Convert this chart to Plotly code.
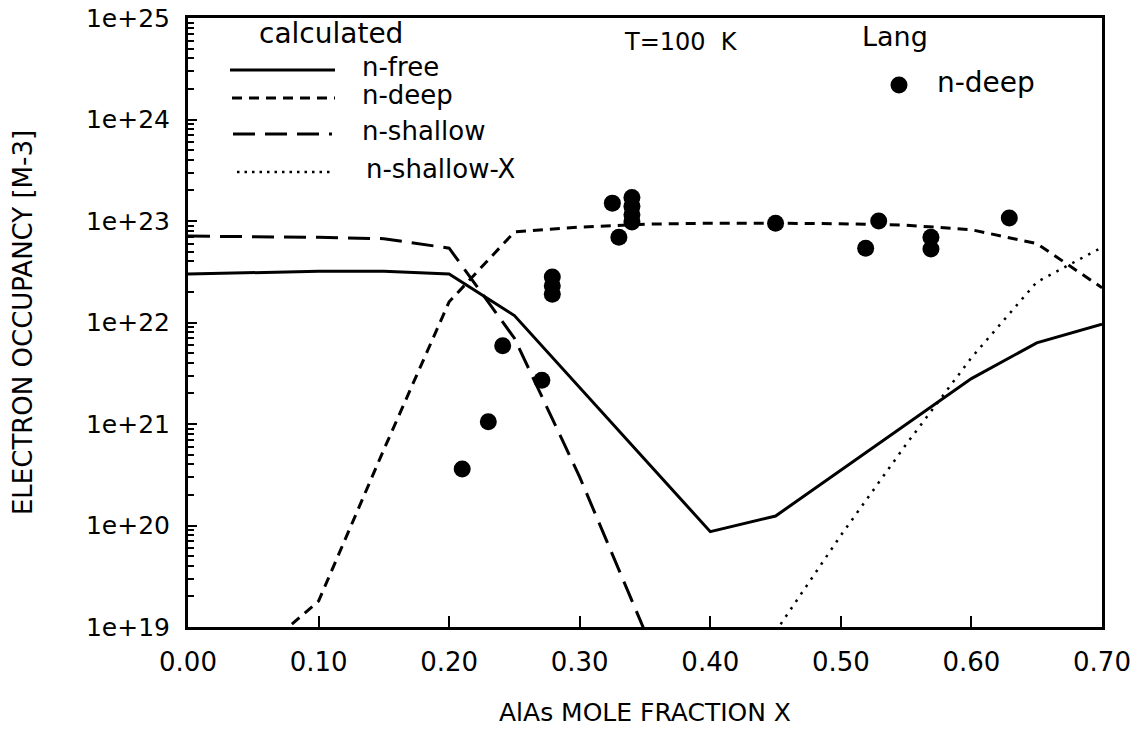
import plotly.graph_objects as go

# ---- data ----
x_free = [0.00, 0.10, 0.15, 0.20, 0.25, 0.40, 0.45, 0.60, 0.65, 0.70]
n_free = [3.0e22, 3.2e22, 3.2e22, 3.0e22, 1.17e22, 8.7e19, 1.24e20, 2.8e21, 6.3e21, 9.6e21]

x_deep = [0.05, 0.10, 0.15, 0.20, 0.25, 0.30, 0.35, 0.40, 0.45, 0.50, 0.55, 0.60, 0.65, 0.70]
n_deep = [5.0e18, 1.8e19, 5.6e20, 1.6e22, 7.8e22, 8.7e22, 9.3e22, 9.5e22, 9.5e22, 9.4e22, 9.1e22, 8.2e22, 6.0e22, 2.2e22]

x_shallow = [0.00, 0.05, 0.10, 0.15, 0.20, 0.25, 0.30, 0.35]
n_shallow = [7.1e22, 7.05e22, 6.9e22, 6.7e22, 5.4e22, 7.0e21, 3.0e20, 9.0e18]

x_shallow_x = [0.45, 0.50, 0.55, 0.60, 0.65, 0.70]
n_shallow_x = [9.0e18, 8.0e19, 6.3e20, 4.5e21, 2.5e22, 5.5e22]

x_lang = [0.210, 0.230, 0.241, 0.271, 0.279, 0.279, 0.279, 0.325, 0.330,
          0.340, 0.340, 0.340, 0.340, 0.450, 0.519, 0.529, 0.569, 0.569, 0.629]
n_lang = [3.6e20, 1.05e21, 5.9e21, 2.7e21, 2.8e22, 2.3e22, 1.9e22, 1.5e23, 6.9e22,
          1.7e23, 1.4e23, 1.15e23, 9.8e22, 9.5e22, 5.4e22, 1.0e23, 6.9e22, 5.3e22, 1.07e23]

x_ticks = [0.0, 0.1, 0.2, 0.3, 0.4, 0.5, 0.6, 0.7]
x_tick_text = ["0.00", "0.10", "0.20", "0.30", "0.40", "0.50", "0.60", "0.70"]
y_ticks = [1e19, 1e20, 1e21, 1e22, 1e23, 1e24, 1e25]
y_tick_text = ["1e+19", "1e+20", "1e+21", "1e+22", "1e+23", "1e+24", "1e+25"]

legend_names = ["n-free", "n-deep", "n-shallow", "n-shallow-X"]

FONT = "DejaVu Sans"
BLACK = "black"

fig = go.Figure()
fig.add_trace(go.Scatter(x=x_free, y=n_free, mode="lines", name="n-free",
                         line=dict(color=BLACK, width=3)))
fig.add_trace(go.Scatter(x=x_deep, y=n_deep, mode="lines", name="n-deep",
                         line=dict(color=BLACK, width=3, dash="10px,7px")))
fig.add_trace(go.Scatter(x=x_shallow, y=n_shallow, mode="lines", name="n-shallow",
                         line=dict(color=BLACK, width=3, dash="22px,10px")))
fig.add_trace(go.Scatter(x=x_shallow_x, y=n_shallow_x, mode="lines", name="n-shallow-X",
                         line=dict(color=BLACK, width=2.5, dash="2.5px,6.5px")))
fig.add_trace(go.Scatter(x=x_lang, y=n_lang, mode="markers", name="Lang n-deep",
                         marker=dict(color=BLACK, size=17), cliponaxis=False))

# plot area in pixels: left 188, right 1102, top 18, bottom 627
L, R, T, B = 188, 1102, 18, 627
def px(xp):
    return (xp - L) / (R - L)
def py(yp):
    return (B - yp) / (B - T)

shapes = []
annotations = []
# "calculated" legend block
annotations.append(dict(x=px(257), y=py(34), xref="paper", yref="paper", text="calculated",
                        showarrow=False, xanchor="left", yanchor="middle",
                        font=dict(family=FONT, size=28, color=BLACK)))
leg_rows = [(70, "solid", 3, 230, 335, 360),
            (98, "10px,7px", 3, 232, 335, 360),
            (134, "22px,10px", 3, 233, 332, 360),
            (172, "2.5px,5px", 2.5, 237, 333, 364)]
for (yy, dash, w, x0, x1, tx), name in zip(leg_rows, legend_names):
    shapes.append(dict(type="line", xref="paper", yref="paper", x0=px(x0), x1=px(x1),
                       y0=py(yy), y1=py(yy), line=dict(color=BLACK, width=w, dash=dash)))
    annotations.append(dict(x=px(tx), y=py(yy - 3), xref="paper", yref="paper", text=name,
                            showarrow=False, xanchor="left", yanchor="middle",
                            font=dict(family=FONT, size=26, color=BLACK)))
# temperature label
annotations.append(dict(x=px(622), y=py(42), xref="paper", yref="paper", text="T=100  K",
                        showarrow=False, xanchor="left", yanchor="middle",
                        font=dict(family=FONT, size=24, color=BLACK)))
# Lang legend
annotations.append(dict(x=px(860), y=py(37), xref="paper", yref="paper", text="Lang",
                        showarrow=False, xanchor="left", yanchor="middle",
                        font=dict(family=FONT, size=27, color=BLACK)))
shapes.append(dict(type="circle", xref="paper", yref="paper", xsizemode="pixel", ysizemode="pixel",
                   xanchor=px(899), yanchor=py(85), x0=-8.5, x1=8.5, y0=-8.5, y1=8.5,
                   fillcolor=BLACK, line=dict(color=BLACK, width=0)))
annotations.append(dict(x=px(935), y=py(82), xref="paper", yref="paper", text="n-deep",
                        showarrow=False, xanchor="left", yanchor="middle",
                        font=dict(family=FONT, size=28, color=BLACK)))

fig.update_layout(
    width=1144, height=741,
    margin=dict(l=L, r=1144 - R, t=T, b=741 - B, autoexpand=False),
    paper_bgcolor="white", plot_bgcolor="white",
    showlegend=False,
    shapes=shapes, annotations=annotations,
    font=dict(family=FONT, color=BLACK),
)
fig.update_xaxes(
    range=[0, 0.70], tickvals=x_ticks, ticktext=x_tick_text,
    ticks="inside", ticklen=11, tickwidth=2, tickcolor=BLACK,
    showline=True, linecolor=BLACK, linewidth=3, mirror=True,
    showgrid=False, zeroline=False, automargin=False,
    tickfont=dict(family=FONT, size=26, color=BLACK),
    ticklabelstandoff=10,
    title=dict(text="AlAs MOLE FRACTION X", font=dict(family=FONT, size=25, color=BLACK), standoff=28),
)
fig.update_yaxes(
    type="log", range=[19, 25], tickvals=y_ticks, ticktext=y_tick_text,
    ticks="inside", ticklen=9, tickwidth=2, tickcolor=BLACK,
    minor=dict(ticks="inside", ticklen=6, tickwidth=1.5, tickcolor=BLACK, dtick="D1", showgrid=False),
    showline=True, linecolor=BLACK, linewidth=3, mirror=True,
    showgrid=False, zeroline=False, automargin=False,
    tickfont=dict(family=FONT, size=25, color=BLACK),
    ticklabelstandoff=10,
    title=dict(text="ELECTRON OCCUPANCY [M-3]", font=dict(family=FONT, size=26, color=BLACK), standoff=46),
)

fig.write_html("out.html", config={"displayModeBar": False},
               post_script="document.body.style.margin='0';")
